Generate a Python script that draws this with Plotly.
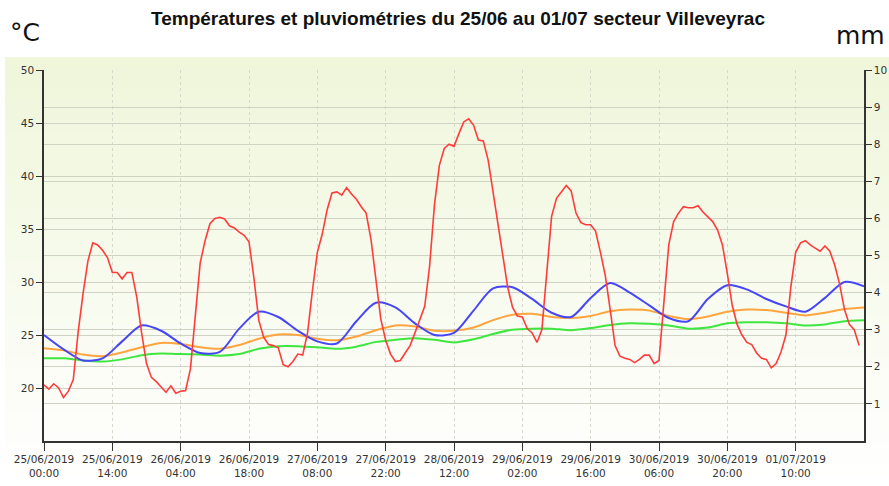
import plotly.graph_objects as go
import pandas as pd

# ---------------- data ----------------
start = pd.Timestamp("2019-06-25 00:00")

# red series: hourly, 25/06 00:00 -> 01/07 23:00
temp_hourly = [
    20.3, 19.9, 20.4, 20.0, 19.1, 19.7, 20.8, 25.3, 28.9, 32.0,
    33.7, 33.5, 33.0, 32.3, 30.9, 30.9, 30.3, 30.9, 30.9, 28.6,
    25.2, 22.3, 21.0, 20.6, 20.1, 19.6, 20.2, 19.5, 19.7, 19.75,
    21.8, 27.2, 31.8, 33.9, 35.5, 36.0, 36.1, 35.95, 35.3, 35.1,
    34.7, 34.4, 33.8, 30.4, 26.4, 24.8, 24.1, 24.0, 23.8, 22.2,
    22.0, 22.5, 23.2, 23.1, 25.2, 29.2, 32.8, 34.5, 36.8, 38.4,
    38.5, 38.2, 38.9, 38.3, 37.8, 37.1, 36.5, 34.0, 30.0, 26.5,
    24.5, 23.2, 22.5, 22.6, 23.3, 24.0, 25.2, 26.4, 27.7, 31.5,
    37.3, 41.0, 42.6, 43.0, 42.8, 44.0, 45.1, 45.4, 44.8, 43.4,
    43.3, 41.5, 38.5, 35.2, 32.5, 29.5, 27.6, 26.8, 26.7, 25.6,
    25.2, 24.3, 25.5, 30.8, 36.2, 37.9, 38.5, 39.1, 38.6, 36.5,
    35.6, 35.4, 35.4, 34.8, 32.8, 30.6, 27.4, 24.0, 23.0, 22.8,
    22.7, 22.4, 22.7, 23.1, 23.1, 22.3, 22.6, 28.0, 33.5, 35.7,
    36.5, 37.1, 37.0, 37.0, 37.2, 36.6, 36.1, 35.7, 34.9, 33.5,
    30.8, 27.8, 26.0, 25.0, 24.3, 24.1, 23.3, 22.8, 22.7, 21.9,
    22.3, 23.4, 25.0, 29.5, 32.8, 33.7, 33.9, 33.5, 33.2, 32.9,
    33.4, 32.9, 31.6, 29.8, 27.4, 26.0, 25.5, 24.0,
]

# smooth series: every 4 hours, 25/06 00:00 -> 02/07 00:00
blue_4h = [
    25.0, 23.65, 22.6, 22.8, 24.4, 25.9, 25.4, 24.2, 23.3, 23.4,
    25.6, 27.2, 26.7, 25.4, 24.4, 24.2, 26.3, 28.05, 27.6, 26.1,
    25.0, 25.2, 27.3, 29.4, 29.5, 28.4, 27.1, 26.7, 28.5, 29.9,
    29.0, 27.8, 26.6, 26.3, 28.4, 29.7, 29.3, 28.4, 27.7, 27.2,
    28.5, 30.0, 29.6,
]
orange_4h = [
    23.75, 23.55, 23.15, 23.0, 23.35, 23.85, 24.25, 24.15, 23.85, 23.7,
    24.05, 24.65, 25.05, 25.0, 24.65, 24.5, 24.85, 25.45, 25.9, 25.8,
    25.4, 25.4, 25.7, 26.4, 26.9, 27.0, 26.7, 26.6, 26.8, 27.25,
    27.4, 27.3, 26.8, 26.5, 26.75, 27.2, 27.4, 27.35, 27.1, 26.85,
    27.1, 27.45, 27.6,
]
green_4h = [
    22.8, 22.8, 22.6, 22.5, 22.7, 23.1, 23.25, 23.2, 23.15, 23.05,
    23.2, 23.7, 23.95, 23.95, 23.85, 23.7, 23.9, 24.35, 24.55, 24.7,
    24.55, 24.3, 24.6, 25.1, 25.5, 25.6, 25.6, 25.45, 25.65, 25.95,
    26.1, 26.05, 25.9, 25.6, 25.7, 26.1, 26.2, 26.2, 26.1, 25.9,
    26.0, 26.3, 26.4,
]

times_1h = [start + pd.Timedelta(hours=i) for i in range(len(temp_hourly))]
times_4h = [start + pd.Timedelta(hours=4 * i) for i in range(len(blue_4h))]

x_ticks = [start + pd.Timedelta(hours=14 * i) for i in range(12)]
x_ticktext = [t.strftime("%d/%m/%Y<br>%H:%M") for t in x_ticks]
left_ticks = [20, 25, 30, 35, 40, 45, 50]
right_ticks = [1, 2, 3, 4, 5, 6, 7, 8, 9, 10]

title_text = "Températures et pluviométries du 25/06 au 01/07 secteur Villeveyrac"

# ---------------- figure ----------------
fig = go.Figure()
fig.add_trace(go.Scatter(x=times_4h, y=green_4h, mode="lines", line=dict(color="#3fe63f", width=2, shape="spline", smoothing=0.6), showlegend=False))
fig.add_trace(go.Scatter(x=times_4h, y=orange_4h, mode="lines", line=dict(color="#ffa53f", width=2, shape="spline", smoothing=0.6), showlegend=False))
fig.add_trace(go.Scatter(x=times_4h, y=blue_4h, mode="lines", line=dict(color="#4646f5", width=2, shape="spline", smoothing=0.8), showlegend=False))
fig.add_trace(go.Scatter(x=times_1h, y=temp_hourly, mode="lines", line=dict(color="#ff3c3c", width=1.6), showlegend=False))
fig.add_trace(go.Scatter(x=[], y=[], yaxis="y2", showlegend=False, hoverinfo="skip"))

W, H = 889, 486
L, R, T, B = 44, 25, 70, 45
ph = H - T - B
pw = W - L - R

def py(p):
    return (H - B - p) / ph

def px(p):
    return (p - L) / pw

# gradient background panel
n = 40
top_px, bot_px = 57, 486
c0 = (239, 246, 218)
c1 = (255, 255, 255)
shapes = []
for i in range(n):
    f = i / (n - 1)
    col = tuple(round(c0[k] + (c1[k] - c0[k]) * f) for k in range(3))
    y_top = top_px + (bot_px - top_px) * i / n
    y_bot = top_px + (bot_px - top_px) * (i + 1) / n + 1
    shapes.append(dict(type="rect", xref="paper", yref="paper", x0=px(5), x1=px(889),
                       y0=py(y_bot), y1=py(y_top), fillcolor="rgb(%d,%d,%d)" % col,
                       line=dict(width=0), layer="below"))

tick_font = dict(family="DejaVu Sans, Verdana, sans-serif", size=10.5, color="#333333")

fig.update_layout(
    width=W, height=H,
    margin=dict(l=L, r=R, t=T, b=B),
    paper_bgcolor="white",
    plot_bgcolor="rgba(0,0,0,0)",
    shapes=shapes,
    title=dict(text="<b>" + title_text + "</b>", x=px(458), xanchor="center", xref="paper",
               y=1 - 18 / H, yanchor="middle",
               font=dict(family="Liberation Sans, Arial, sans-serif", size=19, color="#111111")),
    xaxis=dict(
        type="date", range=[start, start + pd.Timedelta(hours=168)],
        tickvals=x_ticks, ticktext=x_ticktext, tickfont=tick_font, automargin=False,
        ticks="outside", ticklen=8, tickcolor="#333333", tickwidth=1.2,
        showline=True, linecolor="#333333", linewidth=1.5,
        showgrid=True, gridcolor="#d6d8cc", griddash="dot", gridwidth=1,
        zeroline=False,
    ),
    yaxis=dict(
        range=[15, 50], tickvals=left_ticks, tickfont=tick_font, automargin=False,
        ticks="outside", ticklen=6, tickcolor="#333333", tickwidth=1.2,
        showline=True, linecolor="#333333", linewidth=1.5,
        showgrid=True, gridcolor="#d0d3c3", gridwidth=1.2, zeroline=False,
    ),
    yaxis2=dict(
        range=[0, 10], tickvals=right_ticks, tickfont=tick_font, overlaying="y", side="right",
        automargin=False,
        ticks="outside", ticklen=6, tickcolor="#333333", tickwidth=1.2,
        showline=True, linecolor="#333333", linewidth=1.5,
        showgrid=True, gridcolor="#d0d3c3", gridwidth=1.2, zeroline=False,
    ),
    annotations=[
        dict(text="°C", xref="paper", yref="paper", x=px(8), y=py(33), xanchor="left", yanchor="middle",
             showarrow=False, font=dict(family="DejaVu Sans, sans-serif", size=25, color="#111111")),
        dict(text="mm", xref="paper", yref="paper", x=px(887), y=py(36), xanchor="right", yanchor="middle",
             showarrow=False, font=dict(family="DejaVu Sans, sans-serif", size=25, color="#111111")),
    ],
)

fig.write_html("out.html", config={"displayModeBar": False},
               post_script="document.body.style.margin='0';document.body.style.overflow='hidden';")
